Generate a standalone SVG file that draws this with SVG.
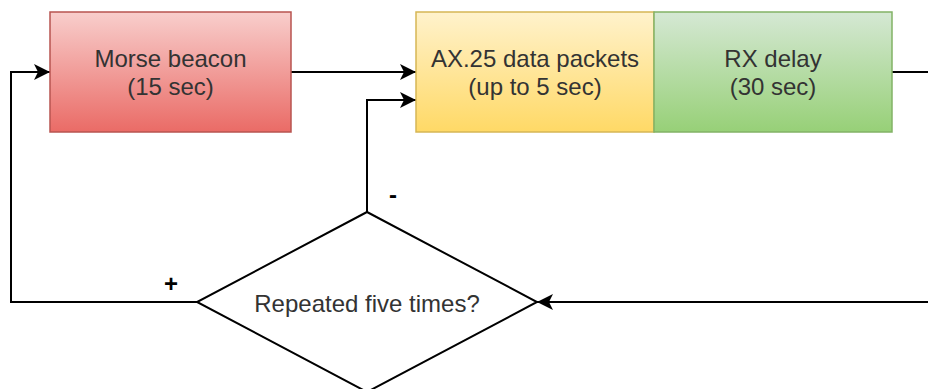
<svg xmlns="http://www.w3.org/2000/svg" width="928" height="389" viewBox="0 0 928 389">
<style>
.lbl{font-family:"Liberation Sans",Arial,sans-serif;font-size:24px;fill:#333333;text-anchor:middle}
.sign{font-family:"Liberation Sans",Arial,sans-serif;font-size:24px;font-weight:bold;fill:#000;text-anchor:middle}
.edge{fill:none;stroke:#000;stroke-width:2}
</style>
<defs>
<linearGradient id="gRed" x1="0" y1="0" x2="0" y2="1"><stop offset="0" stop-color="#f8cecc"/><stop offset="1" stop-color="#ea6b66"/></linearGradient>
<linearGradient id="gYel" x1="0" y1="0" x2="0" y2="1"><stop offset="0" stop-color="#fff2cc"/><stop offset="1" stop-color="#ffd966"/></linearGradient>
<linearGradient id="gGrn" x1="0" y1="0" x2="0" y2="1"><stop offset="0" stop-color="#d5e8d4"/><stop offset="1" stop-color="#97d077"/></linearGradient>
<marker id="arr" markerUnits="userSpaceOnUse" markerWidth="18" markerHeight="18" viewBox="0 0 18 18" refX="17" refY="9" orient="auto">
<path d="M1,1 L17,9 L1,17 L5,9 Z" fill="#000"/>
</marker>
</defs>
<g id="connectors">
<path class="edge" d="M291,72 L416,72" marker-end="url(#arr)"/>
<path class="edge" d="M197,302 L11,302 L11,72 L50,72" marker-end="url(#arr)"/>
<path class="edge" d="M367,212 L367,100 L416,100" marker-end="url(#arr)"/>
<path class="edge" d="M892,72 L928,72"/>
<path class="edge" d="M928,302 L537,302" marker-end="url(#arr)"/>
<text class="sign" x="393" y="203">-</text>
<text class="sign" x="171" y="292">+</text>
</g>
<g id="morse">
<rect x="50" y="12" width="241" height="120" fill="url(#gRed)" stroke="#b85450" stroke-width="1.5"/>
<text class="lbl" x="170.5" y="67">Morse beacon</text>
<text class="lbl" x="170.5" y="95">(15 sec)</text>
</g>
<g id="ax25">
<rect x="416" y="12" width="238" height="120" fill="url(#gYel)" stroke="#d6b656" stroke-width="1.5"/>
<text class="lbl" x="535" y="67">AX.25 data packets</text>
<text class="lbl" x="535" y="95">(up to 5 sec)</text>
</g>
<g id="rxdelay">
<rect x="654" y="12" width="238" height="120" fill="url(#gGrn)" stroke="#82b366" stroke-width="1.5"/>
<text class="lbl" x="773" y="67">RX delay</text>
<text class="lbl" x="773" y="95">(30 sec)</text>
</g>
<g id="decision">
<path d="M367,212 L537,302 L367,392 L197,302 Z" fill="#fff" stroke="#000" stroke-width="2"/>
<text class="lbl" x="367" y="312">Repeated five times?</text>
</g>
</svg>
